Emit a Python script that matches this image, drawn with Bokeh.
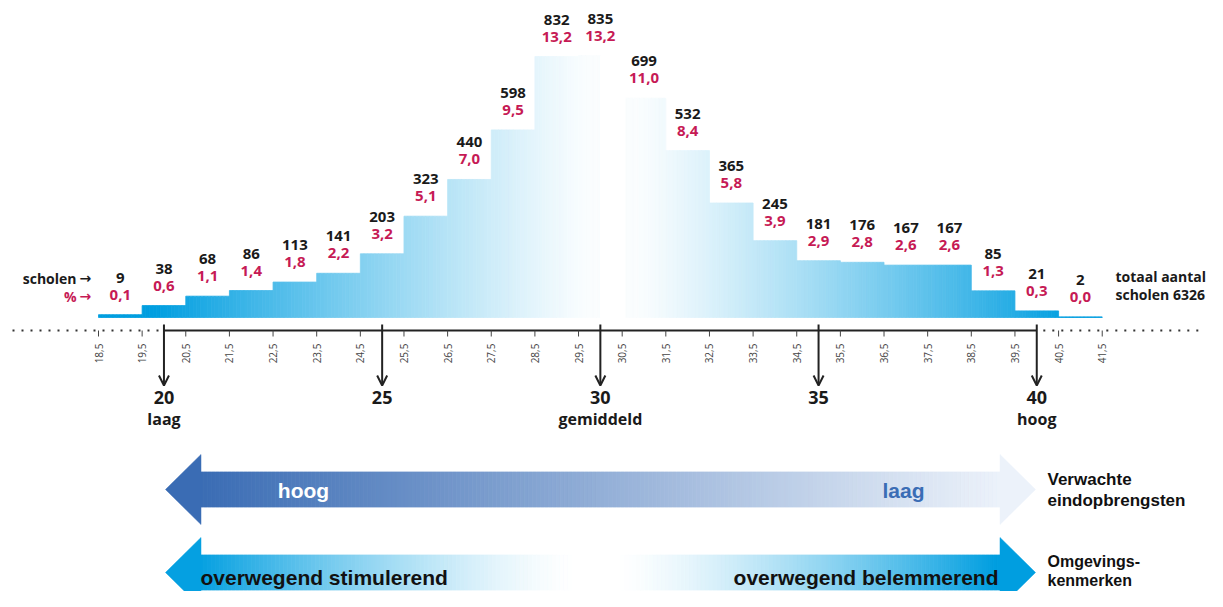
import numpy as np
from bokeh.plotting import figure
from bokeh.models import Range1d, Arrow, OpenHead
from bokeh.core.properties import value
from bokeh.embed import file_html
from bokeh.resources import INLINE

# ---------------- data ----------------
scores = [19, 20, 21, 22, 23, 24, 25, 26, 27, 28, 29, 30, 31, 32, 33, 34, 35, 36, 37, 38, 39, 40, 41]
counts = [9, 38, 68, 86, 113, 141, 203, 323, 440, 598, 832, 835, 699, 532, 365, 245, 181, 176, 167, 167, 85, 21, 2]
percents = [0.1, 0.6, 1.1, 1.4, 1.8, 2.2, 3.2, 5.1, 7.0, 9.5, 13.2, 13.2, 11.0, 8.4, 5.8, 3.9, 2.9, 2.8, 2.6, 2.6, 1.3, 0.3, 0.0]
tick_values = [18.5 + i for i in range(24)]
tick_labels = [f"{v:.1f}".replace(".", ",") for v in tick_values]
mark_values = [20, 25, 30, 35, 40]
mark_labels = ["20", "25", "30", "35", "40"]
mark_sub = ["laag", "", "gemiddeld", "", "hoog"]
left_labels = ["scholen", "%"]
arrow_char = "\u2192"
total_labels = ["totaal aantal", "scholen {}".format(sum(counts))]
arrow1_texts = ["hoog", "laag"]
arrow1_title = ["Verwachte", "eindopbrengsten"]
arrow2_texts = ["overwegend stimulerend", "overwegend belemmerend"]
arrow2_title = ["Omgevings-", "kenmerken"]

# ---------------- layout helpers (image pixel -> data) ----------------
W, H = 1207, 591
PX0, PXU = 98.0, 43.64      # x pixel of 18.5, pixels per score unit
PY0, PYU = 317.0, 0.3137    # y pixel of baseline, pixels per school


def X(px):
    return 18.5 + (px - PX0) / PXU


def Y(py):
    return (PY0 - py) / PYU


def mix(c0, c1, t):
    t = max(0.0, min(1.0, t))
    r, g, b = [int(round(a + (bb - a) * t)) for a, bb in zip(c0, c1)]
    return "#%02x%02x%02x" % (r, g, b)


WHITE = (255, 255, 255)
CYAN = (0, 158, 224)
BLUE = (58, 108, 180)
PALE = (236, 242, 250)
INK = "#1a1a1a"
RED = "#c61a55"
FONT = value("Open Sans")
FONT2 = value("Liberation Sans")
FONT3 = value("DejaVu Sans")

p = figure(width=W, height=H, x_range=Range1d(X(0), X(W)), y_range=Range1d(Y(H), Y(0)),
           output_backend="svg", toolbar_location=None, min_border=0,
           x_axis_location=None, y_axis_location=None, outline_line_color=None)
p.grid.visible = False
p.background_fill_color = "white"
p.border_fill_color = "white"

# ---------------- histogram with gradient ----------------
NS = 12
L, R, T, C = [], [], [], []
for s, c in zip(scores, counts):
    edges = np.linspace(s - 0.5, s + 0.5, NS + 1)
    for a, b in zip(edges[:-1], edges[1:]):
        m = 0.5 * (a + b)
        d = abs(m - 30.3)
        f = max(0.0, min(1.0, (d - 0.6) / 9.9)) ** 1.15
        f = 0.02 + 0.98 * f if d > 0.3 else 0.0
        L.append(a); R.append(b); T.append(c); C.append(mix(WHITE, CYAN, f))
p.quad(left=L, right=R, bottom=0, top=T, fill_color=C, line_color=C, line_width=0.8)

# value labels
p.text(x=scores, y=[c + 37 / PYU for c in counts], text=[str(c) for c in counts],
       text_font=FONT, text_font_style="bold", text_font_size="15px", text_color=INK,
       text_align="center", text_baseline="middle")
p.text(x=scores, y=[c + 20 / PYU for c in counts], text=[f"{v:.1f}".replace(".", ",") for v in percents],
       text_font=FONT, text_font_style="bold", text_font_size="15px", text_color=RED,
       text_align="center", text_baseline="middle")

# left / right labels
p.text(x=[X(76)], y=[Y(278)], text=[left_labels[0]], text_font=FONT, text_font_style="bold",
       text_font_size="14px", text_color=INK, text_align="right", text_baseline="middle")
p.text(x=[X(76)], y=[Y(296)], text=[left_labels[1]], text_font=FONT, text_font_style="bold",
       text_font_size="14px", text_color=RED, text_align="right", text_baseline="middle")
p.text(x=[X(79), X(79)], y=[Y(277), Y(295)], text=[arrow_char, arrow_char], text_font=FONT3,
       text_font_style="bold", text_font_size="14px", text_color=[INK, RED],
       text_align="left", text_baseline="middle")
p.text(x=[X(1115)] * 2, y=[Y(276), Y(294)], text=total_labels, text_font=FONT, text_font_style="bold",
       text_font_size="14px", text_color=INK, text_align="left", text_baseline="middle")

# ---------------- axis ----------------
ya = Y(330)
p.segment(x0=[mark_values[0]], y0=[ya], x1=[mark_values[-1]], y1=[ya], line_color="#222222", line_width=1.8)
p.segment(x0=[X(12), mark_values[-1] + 0.15], y0=[ya, ya], x1=[mark_values[0] - 0.1, X(1198)], y1=[ya, ya],
          line_color="#333333", line_width=2.2, line_dash="2 7")
p.segment(x0=tick_values, y0=[Y(330)] * len(tick_values), x1=tick_values, y1=[Y(336)] * len(tick_values),
          line_color="#444444", line_width=1)
p.text(x=tick_values, y=[Y(353)] * len(tick_values), text=tick_labels, angle=np.pi / 2,
       text_font=FONT, text_font_size="10px", text_color="#444444",
       text_align="center", text_baseline="middle")

for m in mark_values:
    p.add_layout(Arrow(end=OpenHead(size=10, line_width=2, line_color="#222222"),
                       x_start=m, y_start=Y(324), x_end=m, y_end=Y(385),
                       line_width=2, line_color="#222222"))
p.text(x=mark_values, y=[Y(397)] * 5, text=mark_labels, text_font=FONT, text_font_style="bold",
       text_font_size="18px", text_color=INK, text_align="center", text_baseline="middle")
p.text(x=mark_values, y=[Y(418)] * 5, text=mark_sub, text_font=FONT, text_font_style="bold",
       text_font_size="16px", text_color=INK, text_align="center", text_baseline="middle")


# ---------------- big gradient arrows ----------------
def big_arrow(cy, color_at, n=200):
    xs = np.linspace(199, 1001, n + 1)
    l, r, c = [], [], []
    for a, b in zip(xs[:-1], xs[1:]):
        l.append(X(a)); r.append(X(b)); c.append(color_at(0.5 * (a + b)))
    p.quad(left=l, right=r, bottom=Y(cy + 17.5), top=Y(cy - 17.5), fill_color=c, line_color=c, line_width=0.8)
    p.patch(x=[X(165), X(200.5), X(200.5)], y=[Y(cy), Y(cy - 35), Y(cy + 35)],
            fill_color=color_at(200), line_color=color_at(200), line_width=0.5)
    p.patch(x=[X(1035), X(999.5), X(999.5)], y=[Y(cy), Y(cy - 35), Y(cy + 35)],
            fill_color=color_at(1000), line_color=color_at(1000), line_width=0.5)


big_arrow(489, lambda px: mix(BLUE, PALE, (px - 200) / 800))
big_arrow(572, lambda px: mix(WHITE, CYAN, max(0.0, (abs(px - 595) - 20) / 380) ** 1.4))

p.text(x=[X(303)], y=[Y(490)], text=[arrow1_texts[0]], text_font=FONT2, text_font_style="bold",
       text_font_size="21px", text_color="white", text_align="center", text_baseline="middle")
p.text(x=[X(903)], y=[Y(490)], text=[arrow1_texts[1]], text_font=FONT2, text_font_style="bold",
       text_font_size="21px", text_color="#3a6db5", text_align="center", text_baseline="middle")
p.text(x=[X(200)], y=[Y(577)], text=[arrow2_texts[0]], text_font=FONT2, text_font_style="bold",
       text_font_size="21px", text_color="#111111", text_align="left", text_baseline="middle")
p.text(x=[X(998)], y=[Y(577)], text=[arrow2_texts[1]], text_font=FONT2, text_font_style="bold",
       text_font_size="21px", text_color="#111111", text_align="right", text_baseline="middle")
p.text(x=[X(1047)] * 2, y=[Y(479), Y(500)], text=arrow1_title, text_font=FONT2, text_font_style="bold",
       text_font_size="17px", text_color="#111111", text_align="left", text_baseline="middle")
p.text(x=[X(1047)] * 2, y=[Y(561), Y(580)], text=arrow2_title, text_font=FONT2, text_font_style="bold",
       text_font_size="16px", text_color="#111111", text_align="left", text_baseline="middle")

open("out.html", "w").write(file_html(p, INLINE))
